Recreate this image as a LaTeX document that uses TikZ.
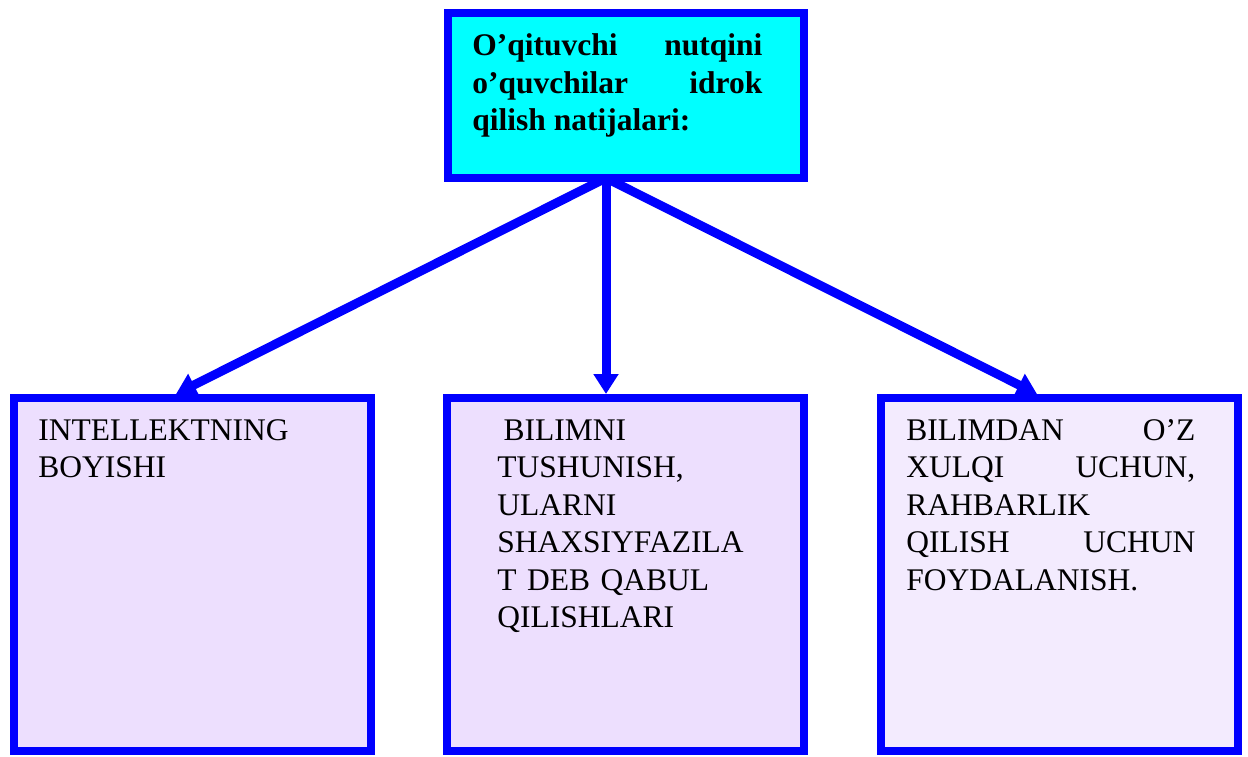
\documentclass[tikz,border=0pt]{standalone}
\usepackage{fontspec}
\setmainfont{Liberation Serif}
\usetikzlibrary{arrows.meta,backgrounds}
\definecolor{bord}{RGB}{0,0,255}
\definecolor{topfill}{RGB}{0,255,255}
\definecolor{lav}{RGB}{237,223,254}
\definecolor{lavl}{RGB}{243,235,254}
\newcommand\fsz{\fontsize{15.75}{18.75}\selectfont}
\begin{document}
\begin{tikzpicture}[x=0.5pt,y=-0.5pt,
  box/.style={draw=bord,line width=4pt,inner sep=0pt,minimum width=178.5pt,minimum height=176.5pt},
  lbl/.style={anchor=north west,inner sep=0pt,font=\fsz},
  arr/.style={draw=bord,line width=4.5pt,-{Triangle[length=10pt,width=12pt]}}]
\useasboundingbox (0,0) rectangle (1248,756);
% boxes
\node[box,fill=topfill,minimum width=178pt,minimum height=82.5pt] (top) at (626,95.5) {};
\node[box,fill=lav] (L) at (192.5,574.5) {};
\node[box,fill=lav] (M) at (625.5,574.5) {};
\node[box,fill=lavl] (R) at (1059.5,574.5) {};
% texts
\node[lbl,font=\fsz\bfseries,text width=145pt,align=justify] (tt) at (472,33.5)
  {O’qituvchi nutqini\linebreak o’quvchilar idrok\linebreak qilish natijalari:};
\node[lbl,text width=160pt,align=left] (lt) at (38,419)
  {INTELLEKTNING\\BOYISHI};
\node[lbl,text width=150pt,align=left] (mt) at (497,419)
  {\hspace*{0.2em}BILIMNI\\TUSHUNISH,\\ULARNI\\SHAXSIYFAZILA\\T DEB QABUL\\QILISHLARI};
\node[lbl,text width=144.5pt,align=justify] (rt) at (906,419)
  {BILIMDAN O’Z\linebreak XULQI UCHUN,\linebreak RAHBARLIK\\QILISH UCHUN\linebreak FOYDALANISH.};
% connectors
\begin{scope}[on background layer]
\coordinate (src) at (606,178);
\coordinate (Lin) at (176,394);
\coordinate (Min) at (606,394);
\coordinate (Rin) at (1037,394);
\draw[arr] (src) -- (Lin);
\draw[arr] (src) -- (Min);
\draw[arr] (src) -- (Rin);
\end{scope}
\end{tikzpicture}
\end{document}
